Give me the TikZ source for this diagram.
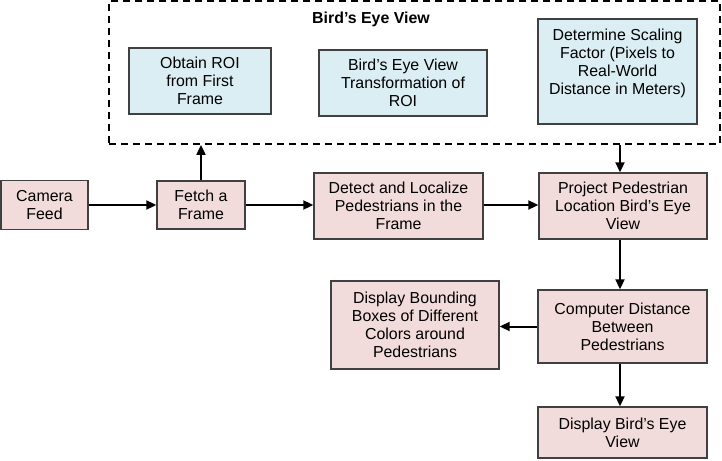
\documentclass[tikz,border=0pt]{standalone}
\usepackage{fontspec}
\setmainfont{Liberation Sans}
\usetikzlibrary{arrows.meta}
\definecolor{pinkfill}{HTML}{F2DCDB}
\definecolor{bluefill}{HTML}{DBEEF3}
\definecolor{edge}{HTML}{404040}
\begin{document}
\begin{tikzpicture}[x=1pt,y=-1pt,
  box/.style={draw=edge, line width=1.4pt, rectangle, inner sep=0pt, align=center,
    font=\fontsize{15.9}{18}\selectfont},
  pinkbox/.style={box, fill=pinkfill},
  bluebox/.style={box, fill=bluefill},
  txt/.style={inner sep=0pt, align=center, font=\fontsize{15.9}{18}\selectfont},
  arr/.style={line width=2pt, -{Triangle[length=10pt,width=9pt]}},
  dashbox/.style={draw=black, line width=1.8pt, dash pattern=on 7pt off 5pt, inner sep=0pt}
]
\useasboundingbox (0,0) rectangle (722,460);

% dashed group
\node[dashbox, minimum width=611, minimum height=143] (bev) at (414.5,72.5) {};
\node[txt, font=\fontsize{15.9}{18}\selectfont\bfseries] (title) at (371,19) {Bird’s Eye View};

\node[bluebox, minimum width=142, minimum height=66] (roi) at (200,81)
  {Obtain ROI\\from First\\Frame};
\node[bluebox, minimum width=168, minimum height=66] (trans) at (403,83)
  {Bird’s Eye View\\Transformation of\\ROI};
\node[bluebox, minimum width=159, minimum height=105] (scale) at (617.5,71.5) {};
\node[txt] (scaletext) at (617.5,63.5)
  {Determine Scaling\\Factor (Pixels to\\Real-World\\Distance in Meters)};

% main flow
\node[pinkbox, minimum width=87, minimum height=49] (cam) at (44.5,205) {Camera\\Feed};
\node[pinkbox, minimum width=88, minimum height=48] (fetch) at (201,205) {Fetch a\\Frame};
\node[pinkbox, minimum width=169, minimum height=66] (detect) at (398.5,206)
  {Detect and Localize\\Pedestrians in the\\Frame};
\node[pinkbox, minimum width=168, minimum height=66] (project) at (623,206)
  {Project Pedestrian\\Location Bird’s Eye\\View};
\node[pinkbox, minimum width=169, minimum height=73] (compute) at (622.5,326.5)
  {Computer Distance\\Between\\Pedestrians};
\node[pinkbox, minimum width=168, minimum height=88] (dispbb) at (415,325)
  {Display Bounding\\Boxes of Different\\Colors around\\Pedestrians};
\node[pinkbox, minimum width=169, minimum height=51] (dispbev) at (622.5,432.5)
  {Display Bird’s Eye\\View};

\coordinate (axis) at (620,0);

\draw[arr] (cam.east) -- (cam.east -| fetch.west);
\draw[arr] (fetch.east) -- (fetch.east -| detect.west);
\draw[arr] (detect.east |- fetch.east) -- (fetch.east -| project.west);
\draw[arr] (fetch.north) -- (fetch.north |- bev.south);
\draw[arr] (bev.south -| axis) -- (project.north -| axis);
\draw[arr] (project.south -| axis) -- (compute.north -| axis);
\draw[arr] (compute.west) -- (compute.west -| dispbb.east);
\draw[arr] (compute.south -| axis) -- (dispbev.north -| axis);
\end{tikzpicture}
\end{document}
